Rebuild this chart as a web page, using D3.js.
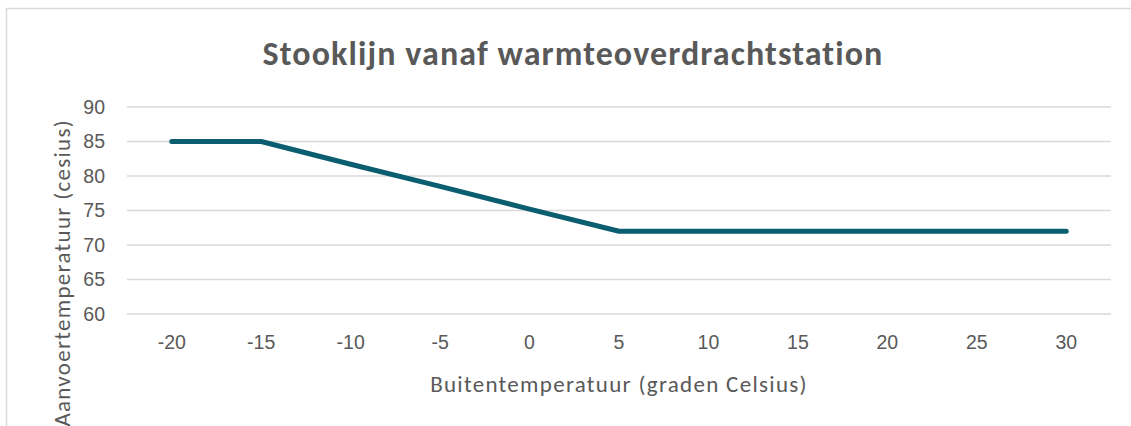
<!DOCTYPE html>
<html>
<head>
<meta charset="utf-8">
<script src="https://cdn.jsdelivr.net/npm/d3@7"></script>
<style>
  body { margin: 0; background: #fff; }
  svg { display: block; font-family: Calibri, Carlito, Lato, sans-serif; }
</style>
</head>
<body>
<div class="visHolder"></div>
<script>
const width = 1131;
const height = 426;

const categories = [-20, -15, -10, -5, 0, 5, 10, 15, 20, 25, 30];
const supplyTemp = [85, 85, 81.7, 78.5, 75.2, 72, 72, 72, 72, 72, 72];
const yTicks = [60, 65, 70, 75, 80, 85, 90];

const margin = { left: 127, right: 20, top: 107, bottom: 112 };

const svg = d3.select('.visHolder')
  .append('svg')
  .attr('width', width)
  .attr('height', height);

// chart area border
svg.append('rect')
  .attr('x', 6.5)
  .attr('y', 8.5)
  .attr('width', width + 20)
  .attr('height', height + 20)
  .attr('fill', '#fff')
  .attr('stroke', '#d9d9d9')
  .attr('stroke-width', 1.5);

const xScale = d3.scaleBand()
  .domain(categories)
  .range([margin.left, width - margin.right]);

const yScale = d3.scaleLinear()
  .domain([60, 90])
  .range([height - margin.bottom, margin.top]);

// gridlines
svg.append('g')
  .selectAll('line')
  .data(yTicks)
  .enter()
  .append('line')
  .attr('x1', margin.left)
  .attr('x2', width - margin.right)
  .attr('y1', d => yScale(d))
  .attr('y2', d => yScale(d))
  .attr('stroke', '#d9d9d9')
  .attr('stroke-width', 1.3);

const yAxis = d3.axisLeft(yScale).tickValues(yTicks).tickSize(0).tickPadding(0);
svg.append('g')
  .attr('transform', `translate(${margin.left - 22}, 0)`)
  .call(yAxis)
  .call(g => g.select('.domain').remove())
  .selectAll('text')
  .attr('fill', '#595959')
  .style('font-size', '19.5px')
  .attr('font-family', null);

const xAxis = d3.axisBottom(xScale).tickSize(0).tickPadding(0);
svg.append('g')
  .attr('transform', `translate(0, ${yScale(60) + 21})`)
  .call(xAxis)
  .call(g => g.select('.domain').remove())
  .selectAll('text')
  .attr('fill', '#595959')
  .style('font-size', '19.5px')
  .attr('font-family', null);

const line = d3.line()
  .x((d, i) => xScale(categories[i]) + xScale.bandwidth() / 2)
  .y(d => yScale(d));

svg.append('path')
  .datum(supplyTemp)
  .attr('d', line)
  .attr('fill', 'none')
  .attr('stroke', '#0b5d70')
  .attr('stroke-width', 5)
  .attr('stroke-linecap', 'round')
  .attr('stroke-linejoin', 'round');

// title
svg.append('text')
  .attr('x', 573)
  .attr('y', 65)
  .attr('text-anchor', 'middle')
  .attr('fill', '#595959')
  .style('font-size', '34px')
  .style('font-weight', 'bold')
  .style('letter-spacing', '1.1px')
  .text('Stooklijn vanaf warmteoverdrachtstation');

// axis titles
svg.append('text')
  .attr('x', (margin.left + width - margin.right) / 2)
  .attr('y', 392)
  .attr('text-anchor', 'middle')
  .attr('fill', '#595959')
  .style('font-size', '23px')
  .style('letter-spacing', '1.3px')
  .text('Buitentemperatuur (graden Celsius)');

svg.append('text')
  .attr('transform', 'translate(70, 119) rotate(-90)')
  .attr('text-anchor', 'end')
  .attr('fill', '#595959')
  .style('font-size', '23px')
  .style('letter-spacing', '1.3px')
  .text('Aanvoertemperatuur (cesius)');
</script>
</body>
</html>
